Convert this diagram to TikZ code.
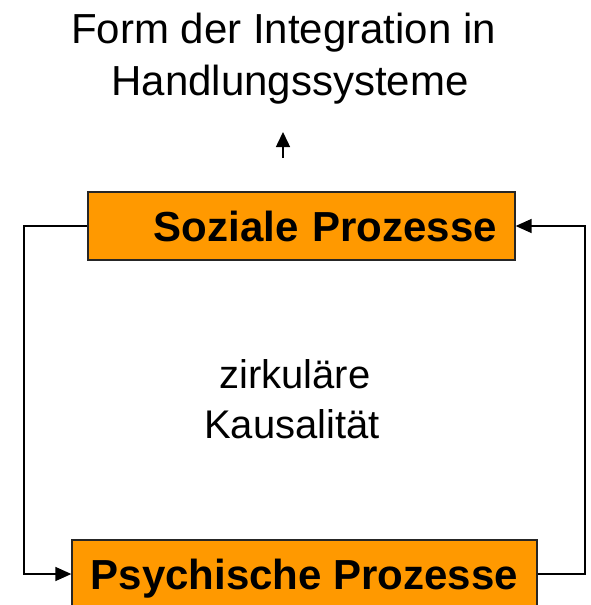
\documentclass[tikz,border=0pt]{standalone}
\usepackage{fontspec}
\setmainfont{Liberation Sans}
\usetikzlibrary{arrows.meta}
\definecolor{boxorange}{HTML}{FF9900}
\tikzset{
  procbox/.style={draw=black!85, line width=1.3pt, fill=boxorange, minimum height=68pt, font=\fontsize{42}{48}\selectfont\bfseries, inner ysep=0pt, text height=30pt, text depth=0pt},
  titletext/.style={font=\fontsize{42}{48}\selectfont, inner sep=0pt, anchor=base},
  midtext/.style={font=\fontsize{40}{48}\selectfont, inner sep=0pt, anchor=base},
  conn/.style={line width=1.5pt, -{Triangle[length=16pt,width=14pt]}},
}
\begin{document}
\begin{tikzpicture}[x=1pt,y=-1pt]
\useasboundingbox (0,0) rectangle (590,605);
\node[titletext] (t1) at (283.5,43) {Form der Integration in};
\node[titletext] (t2) at (290,95) {Handlungssysteme};
\node[midtext] (m1) at (295,388) {zirkuläre};
\node[midtext] (m2) at (292,438) {Kausalität};
\node[procbox, minimum width=427pt, text width=391pt, inner xsep=18pt, align=right] (soz) at (301.5,226) {Soziale Prozesse};
\node[procbox, minimum width=465pt, align=center] (psy) at (304.5,574) {Psychische Prozesse};
\coordinate (up0) at (283,158);
\coordinate (up1) at (283,132);
\draw[line width=1.5pt, -{Triangle[length=15pt,width=14pt]}] (up0) -- (up1);
\coordinate (lc) at (24,0);
\coordinate (rc) at (585,0);
\draw[conn] (soz.west) -| (lc |- psy.west) -- (psy.west);
\draw[conn] (psy.east) -| (rc |- soz.east) -- (soz.east);
\end{tikzpicture}
\end{document}
